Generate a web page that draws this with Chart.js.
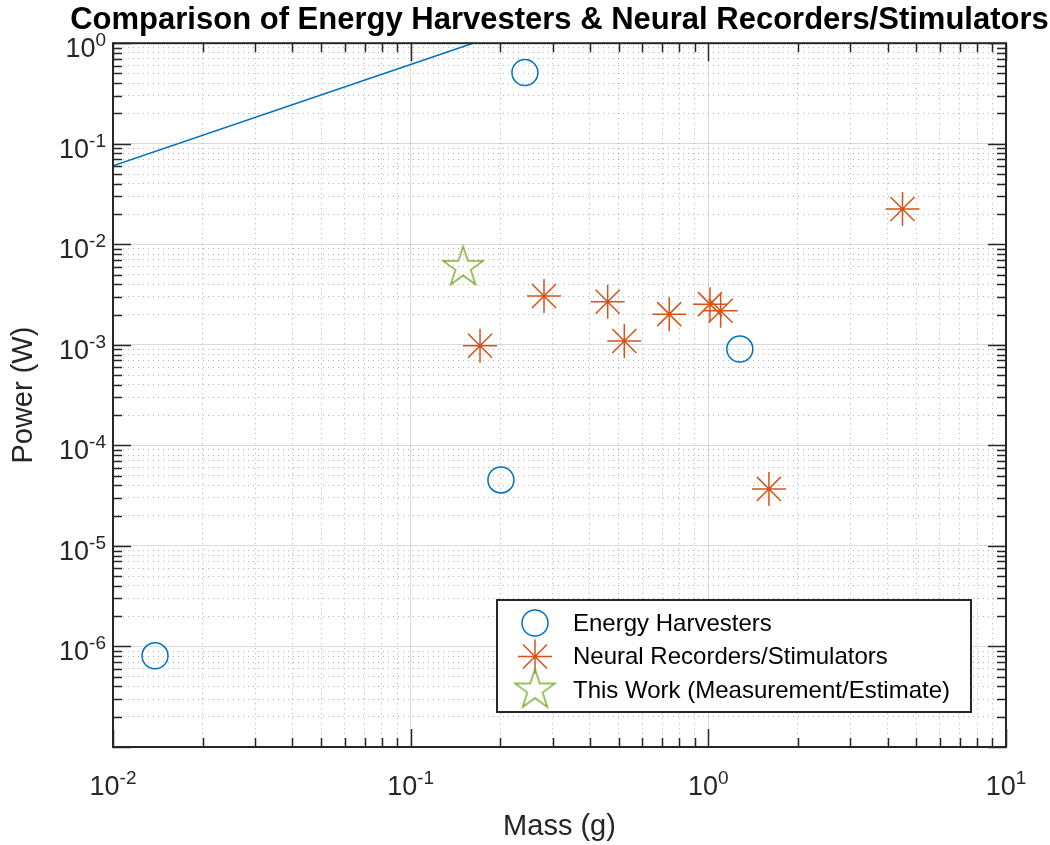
<!DOCTYPE html>
<html>
<head>
<meta charset="utf-8">
<script src="https://cdn.jsdelivr.net/npm/chart.js@4.4.0/dist/chart.umd.min.js"></script>
<style>
  html, body { margin: 0; padding: 0; background: #fff; }
  #wrap { width: 1050px; height: 845px; }
</style>
</head>
<body>
<div id="wrap"><canvas id="myChart" width="1050" height="845"></canvas></div>
<script>
// values: mass in g, power in W
const harvesterMass = [0.01384, 0.201, 0.242, 1.276];
const harvesterPower = [8.07e-7, 4.53e-5, 0.51, 9.08e-4];

const neuralMass = [0.171, 0.2805, 0.459, 0.522, 0.739, 1.013, 1.10, 1.598, 4.49];
const neuralPower = [9.8e-4, 3.06e-3, 2.68e-3, 1.09e-3, 2.02e-3, 2.54e-3, 2.18e-3, 3.69e-5, 0.0224];

const thisWorkMass = [0.150];
const thisWorkPower = [5.9e-3];

const trendMass = [0.01, 0.162];
const trendPower = [0.0603, 1];

const seriesLabels = ['Energy Harvesters', 'Neural Recorders/Stimulators', 'This Work (Measurement/Estimate)'];

// decade exponents: axis range and labelled ticks
const xRangeExps = [-2, 1];
const yRangeExps = [-7, 0];
const xLabelExps = [-2, -1, 0, 1];
const yLabelExps = [-6, -5, -4, -3, -2, -1, 0];

const FONT = "'Liberation Sans', Arial, Helvetica, sans-serif";
const BLUE = '#0072BD';
const ORANGE = '#D95319';
const GREEN = '#77AC30';
const AXIS = '#262626';

function toPoints(xs, ys) {
    return xs.map((x, i) => ({ x: x, y: ys[i] }));
}

// 1..9 x 10^e ticks for a log axis, decades flagged as major
function decadeTicks(exps) {
    const ticks = [];
    for (let e = exps[0]; e < exps[1]; e++) {
        for (let m = 1; m <= 9; m++) {
            ticks.push({ value: m * Math.pow(10, e), major: m === 1 });
        }
    }
    ticks.push({ value: Math.pow(10, exps[1]), major: true });
    return ticks;
}

function makePentagram(R, color, lw) {
    const size = Math.ceil(2 * R + 2 * lw + 2);
    const c = document.createElement('canvas');
    c.width = size;
    c.height = size;
    const g = c.getContext('2d');
    const cx = size / 2, cy = size / 2, r = R * 0.382;
    g.beginPath();
    for (let i = 0; i < 10; i++) {
        const rad = i % 2 ? r : R;
        const a = -Math.PI / 2 + i * Math.PI / 5;
        const px = cx + rad * Math.cos(a), py = cy + rad * Math.sin(a);
        if (i === 0) g.moveTo(px, py); else g.lineTo(px, py);
    }
    g.closePath();
    g.strokeStyle = color;
    g.lineWidth = lw;
    g.stroke();
    return c;
}

const pentagram = makePentagram(21, GREEN, 1.5);

function drawPow(ctx, exp, x, y, align) {
    const base = '10', sup = String(exp);
    ctx.font = '27px ' + FONT;
    const wb = ctx.measureText(base).width;
    ctx.font = '19px ' + FONT;
    const ws = ctx.measureText(sup).width;
    const left = align === 'center' ? x - (wb + ws) / 2 : x - (wb + ws);
    ctx.textAlign = 'left';
    ctx.textBaseline = 'alphabetic';
    ctx.fillStyle = AXIS;
    ctx.font = '27px ' + FONT;
    ctx.fillText(base, left, y);
    ctx.font = '19px ' + FONT;
    ctx.fillText(sup, left + wb, y - 11);
}

const matlabAxes = {
    id: 'matlabAxes',
    afterLayout(chart) {
        // centre the title over the plot box like MATLAB does
        const a = chart.chartArea;
        const cx = (a.left + a.right) / 2;
        chart.titleBlock.left = cx - 520;
        chart.titleBlock.right = cx + 520;
    },
    afterDatasetsDraw(chart) {
        const ctx = chart.ctx;
        const a = chart.chartArea;
        const xs = chart.scales.x, ys = chart.scales.y;
        ctx.save();

        // inward ticks on all four sides
        ctx.strokeStyle = AXIS;
        ctx.lineWidth = 1.5;
        ctx.beginPath();
        xs.ticks.forEach(t => {
            const px = Math.round(xs.getPixelForValue(t.value)) + 0.5;
            const len = t.major ? 18 : 9;
            ctx.moveTo(px, a.bottom); ctx.lineTo(px, a.bottom - len);
            ctx.moveTo(px, a.top); ctx.lineTo(px, a.top + len);
        });
        ys.ticks.forEach(t => {
            const py = Math.round(ys.getPixelForValue(t.value)) + 0.5;
            const len = t.major ? 18 : 9;
            ctx.moveTo(a.left, py); ctx.lineTo(a.left + len, py);
            ctx.moveTo(a.right, py); ctx.lineTo(a.right - len, py);
        });
        ctx.stroke();

        // box
        ctx.lineWidth = 2;
        ctx.strokeRect(a.left, a.top, a.right - a.left, a.bottom - a.top);

        // tick labels 10^n
        xLabelExps.forEach(e => drawPow(ctx, e, xs.getPixelForValue(Math.pow(10, e)), a.bottom + 48, 'center'));
        yLabelExps.forEach(e => drawPow(ctx, e, 106, ys.getPixelForValue(Math.pow(10, e)) + 14, 'right'));

        // legend box in the lower right corner
        const right = a.right - 35, bottom = a.bottom - 35;
        const top = bottom - 112, left = right - 474;
        ctx.fillStyle = '#fff';
        ctx.fillRect(left, top, right - left, bottom - top);
        ctx.strokeStyle = AXIS;
        ctx.lineWidth = 2;
        ctx.strokeRect(left, top, right - left, bottom - top);
        ctx.font = '24px ' + FONT;
        ctx.textAlign = 'left';
        ctx.textBaseline = 'middle';
        seriesLabels.forEach((label, i) => {
            const ds = chart.data.datasets[i];
            const rowY = top + 23 + i * 33.5;
            ctx.strokeStyle = ds.borderColor;
            ctx.fillStyle = 'rgba(0,0,0,0)';
            ctx.lineWidth = ds.borderWidth;
            Chart.helpers.drawPoint(ctx, {
                pointStyle: ds.pointStyle, radius: ds.pointRadius, rotation: 0, borderWidth: ds.borderWidth
            }, left + 38, rowY);
            ctx.fillStyle = '#000';
            ctx.fillText(label, left + 76, rowY + 1);
        });
        ctx.restore();
    }
};

function logAxis(exps, title, isX) {
    return {
        type: 'logarithmic',
        min: Math.pow(10, exps[0]),
        max: Math.pow(10, exps[1]),
        afterBuildTicks: scale => { scale.ticks = decadeTicks(exps); },
        afterFit: scale => {
            if (isX) scale.height = 98; else scale.width = 113;
        },
        ticks: { display: false },
        grid: {
            drawTicks: false,
            lineWidth: 1,
            color: c => (c.tick && c.tick.major) ? 'rgba(38,38,38,0.17)' : 'rgba(38,38,38,0.35)'
        },
        border: {
            display: false,
            dash: c => (c.tick && c.tick.major) ? [] : [1, 4]
        },
        title: {
            display: true,
            text: title,
            color: AXIS,
            font: { family: FONT, size: 29 },
            padding: isX ? { top: 0, bottom: 1 } : { top: 7, bottom: 0 }
        }
    };
}

let ctx1 = document.getElementById('myChart');

new Chart(ctx1, {
    type: 'scatter',
    data: {
        datasets: [{
            label: seriesLabels[0],
            data: toPoints(harvesterMass, harvesterPower),
            pointStyle: 'circle',
            pointRadius: 13,
            borderColor: BLUE,
            backgroundColor: 'rgba(0,0,0,0)',
            borderWidth: 1.5
        }, {
            label: seriesLabels[1],
            data: toPoints(neuralMass, neuralPower),
            pointStyle: 'star',
            pointRadius: 17,
            borderColor: ORANGE,
            backgroundColor: ORANGE,
            borderWidth: 1.5
        }, {
            label: seriesLabels[2],
            data: toPoints(thisWorkMass, thisWorkPower),
            pointStyle: pentagram,
            pointRadius: 21,
            borderColor: GREEN,
            backgroundColor: 'rgba(0,0,0,0)',
            borderWidth: 1.5
        }, {
            label: 'trend',
            data: toPoints(trendMass, trendPower),
            showLine: true,
            pointRadius: 0,
            borderColor: BLUE,
            borderWidth: 1.5,
            fill: false
        }]
    },
    options: {
        responsive: false,
        animation: false,
        devicePixelRatio: 1,
        layout: { padding: { left: 0, right: 44, top: 0, bottom: 0 } },
        plugins: {
            legend: { display: false },
            tooltip: { enabled: false },
            title: {
                display: true,
                text: 'Comparison of Energy Harvesters & Neural Recorders/Stimulators',
                color: '#000',
                font: { family: FONT, size: 31, weight: 'bold' },
                padding: { top: 2, bottom: 4 }
            }
        },
        scales: {
            x: logAxis(xRangeExps, 'Mass (g)', true),
            y: logAxis(yRangeExps, 'Power (W)', false)
        }
    },
    plugins: [matlabAxes]
});
</script>
</body>
</html>
